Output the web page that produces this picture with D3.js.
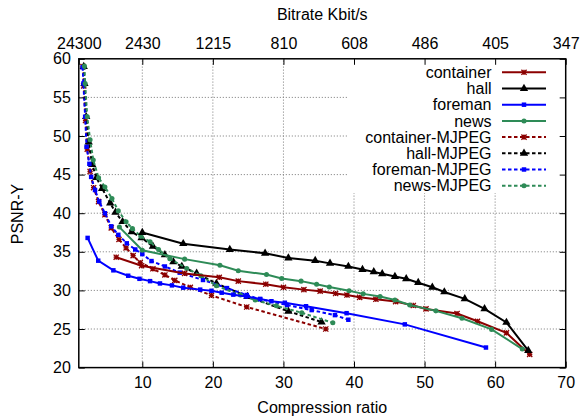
<!DOCTYPE html>
<html>
<head>
<meta charset="utf-8">
<script src="https://cdn.jsdelivr.net/npm/d3@7/dist/d3.min.js"></script>
<style>
  body { margin: 0; background: #fff; }
  svg { display: block; font-family: "Liberation Sans", Arial, sans-serif; }
  .tick text { font-size: 16px; fill: #000; }
  .grid line { stroke: #777; stroke-dasharray: 1,2; }
</style>
</head>
<body>
<div id="chart"></div>
<script>
'use strict';

// compression ratio ticks and the matching bitrate labels (top axis)
const ratioTicks = [1, 10, 20, 30, 40, 50, 60, 70];
const bitrateLabels = ['24300', '2430', '1215', '810', '608', '486', '405', '347'];
const psnrTicks = [20, 25, 30, 35, 40, 45, 50, 55, 60];

// [compression ratio, PSNR-Y]
const container = [[6.3,34.3],[9.9,33.2],[16,32.2],[20.9,31.7],[23.6,31.2],[27.5,30.8],[30,30.4],[32.9,30.1],[35.2,29.9],[37.4,29.6],[39,29.4],[40.8,29.1],[43.1,28.85],[45.9,28.55],[48.4,28.05],[50.2,27.6],[54.6,27.0],[57.5,26.0],[61.6,24.5],[64.9,21.7]];
const hall = [[10,37.5],[15.8,36.05],[22.4,35.3],[27.4,34.8],[30.7,34.2],[34.5,33.85],[36.6,33.5],[39.2,33.1],[41.2,32.7],[42.8,32.4],[44,32.15],[45.8,31.8],[47.4,31.5],[49.1,31.0],[51.1,30.4],[52.8,29.8],[55.7,28.9],[58.5,27.6],[61.6,25.85],[64.7,22.2]];
const foreman = [[2.25,36.8],[3.75,33.85],[5.9,32.6],[8,31.9],[9.6,31.5],[11.1,31.2],[12.5,30.9],[14.2,30.65],[15.8,30.35],[18.2,30.1],[19.8,29.95],[21.25,29.7],[22.9,29.45],[24.7,29.2],[26.7,28.9],[28.3,28.6],[30.2,28.4],[33.2,27.95],[38.95,27.05],[47.2,25.6],[58.7,22.6]];
const news = [[6.75,38.2],[10,35.2],[16,34.05],[21,33.25],[23.6,32.55],[27.6,32.05],[29.75,31.55],[32.5,31.2],[34.7,30.8],[36.5,30.45],[39.3,29.95],[41.3,29.55],[43.7,29.2],[45.8,28.75],[47.9,28.1],[51.6,27.35],[55.3,26.4],[59.5,24.95],[63.85,22.4]];
const containerMjpeg = [[1.6,59],[1.7,56.5],[1.95,52],[2.2,48.3],[2.6,45.4],[3.1,43.3],[3.8,41.5],[4.7,39.8],[5.6,38.1],[6.7,36.6],[7.7,35.5],[8.7,34.5],[9.7,33.6],[11.5,32.8],[13.2,32.0],[14.6,31.3],[16.8,30.4],[19.8,29.35],[24.8,27.85],[36,25.0]];
const hallMjpeg = [[1.7,59],[1.8,56.8],[2.05,52.5],[2.4,49.2],[2.9,46.3],[3.5,44.6],[4.3,43.2],[5.45,41.3],[6.2,40.1],[7.2,38.9],[8.5,37.6],[9.9,36.8],[11.5,35.7],[13.2,34.6],[14.4,33.7],[15.6,33.1],[17.7,32.2],[20.5,30.9],[24.9,29.2],[30.7,27.3],[35.4,25.9]];
const foremanMjpeg = [[1.55,58.9],[1.65,56.8],[1.9,52.5],[2.1,48.6],[2.5,46.4],[2.75,44.7],[3.3,43.0],[3.9,41.5],[4.7,40.0],[5.6,38.3],[6.6,37.2],[7.8,36.1],[9,35.3],[10,34.7],[11.3,33.8],[13.2,33.1],[15.3,32.3],[18.6,31.35],[22,30.3],[24.8,29.4],[26.7,28.85],[30.5,28.1],[34,27.45],[37.3,26.8],[39.2,26.2]];
const newsMjpeg = [[1.8,59.05],[1.9,56.8],[2.2,52.5],[2.6,49.5],[3.05,46.9],[3.8,44.6],[4.7,43.4],[5.7,41.9],[6.6,40.3],[7.7,38.9],[8.6,38.0],[9.8,37.0],[11.1,36.3],[12.3,35.3],[13.9,34.1],[16.3,32.85],[18.3,31.9],[20.5,30.6],[23.9,29.4],[26,28.75],[29,28.0],[32.6,27.1],[37,25.8]];

const seriesNames = ['container', 'hall', 'foreman', 'news', 'container-MJPEG', 'hall-MJPEG', 'foreman-MJPEG', 'news-MJPEG'];
const seriesValues = [container, hall, foreman, news, containerMjpeg, hallMjpeg, foremanMjpeg, newsMjpeg];

const colors = { container: '#8b0000', hall: '#000000', foreman: '#0000ff', news: '#2e8b57' };
const markers = { container: 'star', hall: 'triangle', foreman: 'square', news: 'circle' };

const width = 587, height = 416;
const margin = { left: 78.8, right: 21.3, top: 58.8, bottom: 48.4 };

const svg = d3.select('#chart').append('svg')
    .attr('width', width)
    .attr('height', height);

const x = d3.scaleLinear().domain([1, 70]).range([margin.left, width - margin.right]);
const y = d3.scaleLinear().domain([20, 60]).range([height - margin.bottom, margin.top]);

// grid
const grid = svg.append('g').attr('class', 'grid');
grid.selectAll('.gx').data(ratioTicks.slice(1, -1)).enter().append('line')
    .attr('x1', d => x(d)).attr('x2', d => x(d))
    .attr('y1', y(20)).attr('y2', y(60));
grid.selectAll('.gy').data(psnrTicks.slice(1, -1)).enter().append('line')
    .attr('x1', x(1)).attr('x2', x(70))
    .attr('y1', d => y(d)).attr('y2', d => y(d));

// key background hides the grid behind it
svg.append('rect')
    .attr('x', 347).attr('y', y(60))
    .attr('width', x(70) - 347).attr('height', 193 - y(60))
    .attr('fill', '#fff');

function symbolPath(type, s) {
    if (type === 'star') {
        return 'M' + (-s) + ',0H' + s + 'M0,' + (-s) + 'V' + s +
               'M' + (-s) + ',' + (-s) + 'L' + s + ',' + s + 'M' + (-s) + ',' + s + 'L' + s + ',' + (-s);
    }
    if (type === 'triangle') return d3.symbol(d3.symbolTriangle, 30)();
    if (type === 'square') return d3.symbol(d3.symbolSquare, 20)();
    return d3.symbol(d3.symbolCircle, 20)();
}

function drawMarker(g, base, cx, cy) {
    const type = markers[base];
    g.append('path')
        .attr('transform', 'translate(' + cx + ',' + cy + ')')
        .attr('d', symbolPath(type, 2.6))
        .attr('fill', type === 'star' ? 'none' : colors[base])
        .attr('stroke', colors[base])
        .attr('stroke-width', type === 'star' ? 1.3 : 0);
}

const line = d3.line().x(d => x(d[0])).y(d => y(d[1]));

const plot = svg.append('g').attr('class', 'series');

// draw MJPEG first so the solid curves sit on top
[4, 5, 6, 7, 0, 1, 2, 3].forEach(function(i) {
    const name = seriesNames[i];
    const base = name.replace('-MJPEG', '');
    const dashed = name !== base;
    const g = plot.append('g');
    g.append('path')
        .datum(seriesValues[i])
        .attr('d', line)
        .attr('fill', 'none')
        .attr('stroke', colors[base])
        .attr('stroke-width', 2)
        .attr('stroke-dasharray', dashed ? '3.5,2.5' : null);
    seriesValues[i].forEach(function(d) { drawMarker(g, base, x(d[0]), y(d[1])); });
});

// axes, ticks pointing inward
const axisBottom = d3.axisBottom(x).tickValues(ratioTicks.slice(1)).tickSize(-6).tickPadding(9);
const axisTop = d3.axisTop(x).tickValues(ratioTicks).tickFormat((d, i) => bitrateLabels[i]).tickSize(-6).tickPadding(10);
const axisLeft = d3.axisLeft(y).tickValues(psnrTicks).tickSize(-6).tickPadding(8);
const axisRight = d3.axisRight(y).tickValues(psnrTicks).tickSize(-6).tickFormat('');

svg.append('g').attr('transform', 'translate(0,' + y(20) + ')').call(axisBottom);
svg.append('g').attr('transform', 'translate(0,' + y(60) + ')').call(axisTop);
svg.append('g').attr('transform', 'translate(' + x(1) + ',0)').call(axisLeft);
svg.append('g').attr('transform', 'translate(' + x(70) + ',0)').call(axisRight);
svg.selectAll('.domain').remove();
svg.selectAll('.tick line').attr('stroke', '#000').attr('stroke-width', 1);

svg.append('rect')
    .attr('x', x(1)).attr('y', y(60))
    .attr('width', x(70) - x(1)).attr('height', y(20) - y(60))
    .attr('fill', 'none').attr('stroke', '#000').attr('stroke-width', 1.5);

// titles
const midX = (x(1) + x(70)) / 2;
svg.append('text').attr('x', midX).attr('y', 413).attr('text-anchor', 'middle')
    .attr('font-size', 16).text('Compression ratio');
svg.append('text').attr('x', midX).attr('y', 20).attr('text-anchor', 'middle')
    .attr('font-size', 16).text('Bitrate Kbit/s');
svg.append('text').attr('transform', 'translate(23,214) rotate(-90)').attr('text-anchor', 'middle')
    .attr('font-size', 16).text('PSNR-Y');

// key
const key = svg.append('g').attr('class', 'key');
seriesNames.forEach(function(name, i) {
    const base = name.replace('-MJPEG', '');
    const ky = 72.3 + i * 16.2;
    key.append('text').attr('x', 491.5).attr('y', ky).attr('dy', '0.35em')
        .attr('text-anchor', 'end').attr('font-size', 16).text(name);
    key.append('line')
        .attr('x1', 502).attr('x2', 546).attr('y1', ky).attr('y2', ky)
        .attr('stroke', colors[base]).attr('stroke-width', 2)
        .attr('stroke-dasharray', name !== base ? '3.5,2.5' : null);
    drawMarker(key, base, 524, ky);
});
</script>
</body>
</html>
